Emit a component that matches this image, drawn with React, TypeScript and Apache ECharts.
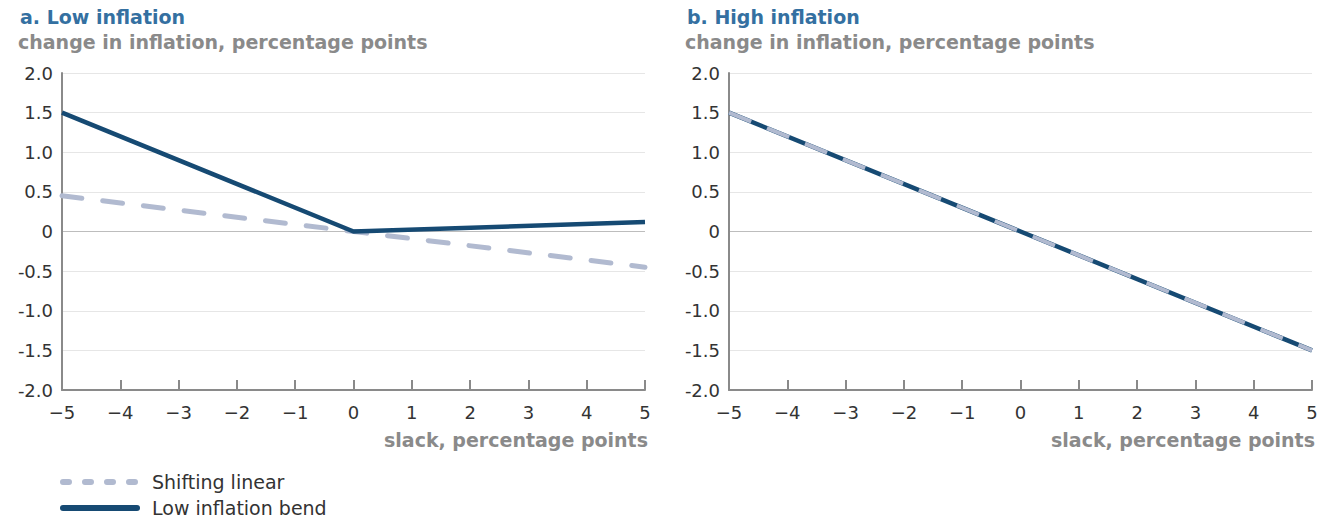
import React, { useEffect, useRef } from "react";
import * as echarts from "echarts";

const xTicks = [-5, -4, -3, -2, -1, 0, 1, 2, 3, 4, 5];
const lowShifting: [number, number][] = [[-5, 0.45], [0, 0], [5, -0.45]];
const lowBend: [number, number][] = [[-5, 1.5], [0, 0], [5, 0.12]];
const highShifting: [number, number][] = [[-5, 1.5], [0, 0], [5, -1.5]];
const highBend: [number, number][] = [[-5, 1.5], [0, 0], [5, -1.5]];
const panelTitles = ["a. Low inflation", "b. High inflation"];
const yAxisTitle = "change in inflation, percentage points";
const xAxisTitle = "slack, percentage points";
const seriesNames = ["Shifting linear", "Low inflation bend"];

const FONT = "'DejaVu Sans', 'Noto Sans', sans-serif";
const DARK = "#164a73";
const LIGHT = "#b1bad0";
const GRAY = "#8a8a8a";
const DASH = [20, 21];

export default function App() {
  const ref = useRef<HTMLDivElement>(null);
  useEffect(() => {
    document.body.style.margin = "0";
    if (!ref.current) return;
    const chart = echarts.init(ref.current, null, { renderer: "svg" });
    const lefts = [62, 729];
    const gridW = 583;
    const gridColors = ["#e6e6e6", "#e6e6e6", "#e6e6e6", "#e6e6e6", "#bdbdbd", "#e6e6e6", "#e6e6e6", "#e6e6e6", "#e6e6e6"];
    const yAxisCommon = (i: number) => ({
      type: "value",
      gridIndex: i,
      min: -2,
      max: 2,
      interval: 0.5,
      axisLine: { show: true, onZero: false, lineStyle: { color: GRAY, width: 2 } },
      axisTick: { show: false },
      splitLine: { show: true, lineStyle: { color: gridColors, width: 1 } },
      axisLabel: {
        color: "#333",
        fontSize: 18,
        fontFamily: FONT,
        margin: 9,
        formatter: (v: number) => (v === 0 ? "0" : v.toFixed(1)),
      },
    });
    const xAxisCommon = (i: number) => ({
      type: "value",
      gridIndex: i,
      min: xTicks[0],
      max: xTicks[xTicks.length - 1],
      interval: 1,
      axisLine: { show: true, onZero: false, lineStyle: { color: GRAY, width: 2 } },
      axisTick: { show: true, inside: true, length: 10, lineStyle: { color: GRAY, width: 2 } },
      splitLine: { show: false },
      axisLabel: {
        color: "#333",
        fontSize: 18,
        fontFamily: FONT,
        margin: 13,
        formatter: (v: number) => (v < 0 ? "\u2212" + Math.abs(v) : String(v)),
      },
    });
    const dashedLeft = { color: LIGHT, width: 5, type: DASH as any, cap: "round" as const };
    const dashedRight = { color: LIGHT, width: 4, type: [24, 17] as any, cap: "butt" as const };
    const solid = { color: DARK, width: 4.5 };
    const graphics: any[] = [];
    [0, 1].forEach((i) => {
      graphics.push({
        type: "text",
        x: lefts[i] - 42,
        y: 7,
        style: { text: panelTitles[i], fill: "#3470a1", fontSize: 19, fontWeight: "bold", fontFamily: FONT },
      });
      graphics.push({
        type: "text",
        x: lefts[i] - 44,
        y: 32,
        style: { text: yAxisTitle, fill: GRAY, fontSize: 19, fontWeight: "bold", fontFamily: FONT },
      });
      graphics.push({
        type: "text",
        x: lefts[i] + gridW + 3,
        y: 430,
        style: { text: xAxisTitle, fill: GRAY, fontSize: 19, fontWeight: "bold", fontFamily: FONT, align: "right" },
      });
    });
    const legendRows = [
      { name: seriesNames[0], style: { stroke: LIGHT, lineWidth: 6, lineDash: [6, 16], lineCap: "round" } },
      { name: seriesNames[1], style: { stroke: DARK, lineWidth: 6, lineCap: "round" } },
    ];
    legendRows.forEach((r, k) => {
      const y = 482 + k * 26;
      graphics.push({ type: "line", shape: { x1: 63, y1: y, x2: 137, y2: y }, style: r.style });
      graphics.push({
        type: "text",
        x: 152,
        y: y,
        style: { text: r.name, fill: "#333", fontSize: 19, fontFamily: FONT, verticalAlign: "middle" },
      });
    });
    const option: any = {
      animation: false,
      textStyle: { fontFamily: FONT },
      graphic: graphics,
      grid: lefts.map((l) => ({ left: l, top: 73, width: gridW, height: 317 })),
      xAxis: [xAxisCommon(0), xAxisCommon(1)],
      yAxis: [yAxisCommon(0), yAxisCommon(1)],
      series: [
        { name: seriesNames[0], type: "line", xAxisIndex: 0, yAxisIndex: 0, data: lowShifting, symbol: "none", lineStyle: dashedLeft, itemStyle: { color: LIGHT } },
        { name: seriesNames[1], type: "line", xAxisIndex: 0, yAxisIndex: 0, data: lowBend, symbol: "none", lineStyle: solid, itemStyle: { color: DARK } },
        { name: seriesNames[1], type: "line", xAxisIndex: 1, yAxisIndex: 1, data: highBend, symbol: "none", lineStyle: solid, itemStyle: { color: DARK } },
        { name: seriesNames[0], type: "line", xAxisIndex: 1, yAxisIndex: 1, data: highShifting, symbol: "none", lineStyle: dashedRight, itemStyle: { color: LIGHT } },
      ],
    };
    chart.setOption(option);
    return () => chart.dispose();
  }, []);
  return <div ref={ref} style={{ width: 1328, height: 520 }} />;
}
